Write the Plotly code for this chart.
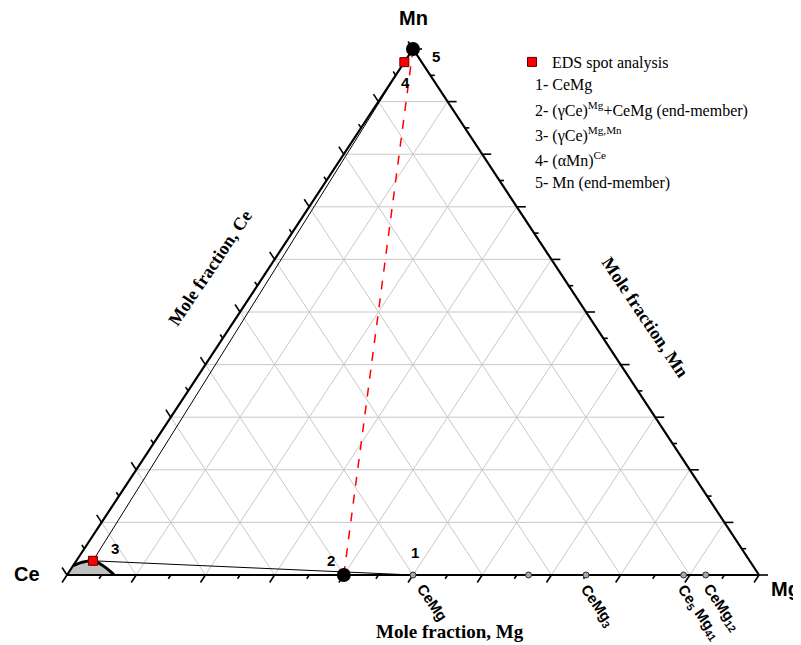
import plotly.graph_objects as go

# ---------------- data (mole fractions) ----------------
grid_values = [0.1, 0.2, 0.3, 0.4, 0.5, 0.6, 0.7, 0.8, 0.9]
tick_values = [i * 0.05 for i in range(21)]

compound_mg = [0.5, 0.667, 0.75, 0.891, 0.923]
compound_text = ["CeMg", "", "CeMg<sub>3</sub>", "Ce<sub>5</sub> Mg<sub>41</sub>", "CeMg<sub>12</sub>"]
compound_label_dx = [-2, 0, -13, -13, -10]   # label nudges in px (style)

eds_mg = [0.024, 0.0]          # spots 3, 4
eds_mn = [0.027, 0.975]
eds_ids = ["3", "4"]

end_mg = [0.40, 0.0]           # end-members 2, 5
end_mn = [0.0, 1.0]
end_ids = ["2", "5"]

cemg_mg = 0.5                  # point 1
cemg_mn = 0.0

boundary_mg = [0.0, 0.009, 0.024, 0.041, 0.063, 0.068]
boundary_mn = [0.018, 0.024, 0.027, 0.019, 0.004, 0.0]

legend_lines = [
    "1- CeMg",
    "2- (γCe)<sup>Mg</sup>+CeMg (end-member)",
    "3- (γCe)<sup>Mg,Mn</sup>",
    "4- (αMn)<sup>Ce</sup>",
    "5- Mn (end-member)",
]

# ---------------- page geometry ----------------
W, H = 793, 637      # figure size (page has 8 px body margin)
OFF = 8


def px2paper_x(p):
    return (p - OFF) / W


def px2paper_y(p):
    return 1 - (p - OFF) / H


def X(mg, mn):
    return mg + mn / 2.0


def Y(mg, mn):
    return mn


SANS = "Liberation Sans"
SERIF = "Liberation Serif"

fig = go.Figure()

# grid
gx, gy = [], []
for k in grid_values:
    gx += [X(0, k), X(1 - k, k), None]; gy += [Y(0, k), Y(1 - k, k), None]
    gx += [X(k, 0), X(k, 1 - k), None]; gy += [Y(k, 0), Y(k, 1 - k), None]
    gx += [X(1 - k, 0), X(0, 1 - k), None]; gy += [Y(1 - k, 0), Y(0, 1 - k), None]
fig.add_trace(go.Scatter(x=gx, y=gy, mode="lines", line=dict(color="#c8c8c8", width=1),
                         hoverinfo="skip", showlegend=False))

# grey phase region
px = [X(0, 0)] + [X(a, b) for a, b in zip(boundary_mg, boundary_mn)] + [X(0, 0)]
py = [Y(0, 0)] + [Y(a, b) for a, b in zip(boundary_mg, boundary_mn)] + [Y(0, 0)]
fig.add_trace(go.Scatter(x=px, y=py, mode="lines", fill="toself", fillcolor="#c0c0c0",
                         line=dict(width=0, color="#c0c0c0"), hoverinfo="skip", showlegend=False))

# ticks
tx_, ty_ = [], []
for i, v in enumerate(tick_values):
    major = (i % 2 == 0)
    t = 0.0143 if major else 0.0072
    tr = 0.013 if major else 0.0065
    tx_ += [X(v, 0), X(v, -t), None]; ty_ += [Y(v, 0), Y(v, -t), None]
    tx_ += [X(0, v), X(-t, v + t), None]; ty_ += [Y(0, v), Y(-t, v + t), None]
    tx_ += [X(1 - v, v), X(1 - v + tr, v), None]; ty_ += [Y(1 - v, v), Y(1 - v + tr, v), None]
fig.add_trace(go.Scatter(x=tx_, y=ty_, mode="lines", line=dict(color="black", width=1.6),
                         hoverinfo="skip", showlegend=False))

# triangle edges
fig.add_trace(go.Scatter(x=[X(0, 0), X(1, 0), X(0, 1), X(0, 0)],
                         y=[Y(0, 0), Y(1, 0), Y(0, 1), Y(0, 0)],
                         mode="lines", line=dict(color="black", width=2.2),
                         hoverinfo="skip", showlegend=False))

# phase boundary
fig.add_trace(go.Scatter(x=[X(a, b) for a, b in zip(boundary_mg, boundary_mn)],
                         y=[Y(a, b) for a, b in zip(boundary_mg, boundary_mn)],
                         mode="lines", line=dict(color="black", width=3, shape="spline"),
                         hoverinfo="skip", showlegend=False))

# tie lines 4-3-1
fig.add_trace(go.Scatter(x=[X(eds_mg[1], eds_mn[1]), X(eds_mg[0], eds_mn[0]), X(cemg_mg, cemg_mn)],
                         y=[Y(eds_mg[1], eds_mn[1]), Y(eds_mg[0], eds_mn[0]), Y(cemg_mg, cemg_mn)],
                         mode="lines", line=dict(color="black", width=1),
                         hoverinfo="skip", showlegend=False))

# red dashed 2-5
fig.add_trace(go.Scatter(x=[X(a, b) for a, b in zip(end_mg, end_mn)],
                         y=[Y(a, b) for a, b in zip(end_mg, end_mn)],
                         mode="lines", line=dict(color="red", width=1.5, dash="dash"),
                         hoverinfo="skip", showlegend=False))

# compounds on Ce-Mg edge
fig.add_trace(go.Scatter(x=[X(v, 0) for v in compound_mg], y=[Y(v, 0) for v in compound_mg],
                         mode="markers",
                         marker=dict(symbol="circle", size=6, color="#a8a8a8",
                                     line=dict(color="#333333", width=1)),
                         hoverinfo="skip", showlegend=False))

# end members
fig.add_trace(go.Scatter(x=[X(a, b) for a, b in zip(end_mg, end_mn)],
                         y=[Y(a, b) for a, b in zip(end_mg, end_mn)],
                         mode="markers", marker=dict(symbol="circle", size=14, color="black"),
                         hoverinfo="skip", showlegend=False))

# EDS spots
fig.add_trace(go.Scatter(x=[X(a, b) for a, b in zip(eds_mg, eds_mn)],
                         y=[Y(a, b) for a, b in zip(eds_mg, eds_mn)],
                         mode="markers", name="EDS spot analysis",
                         marker=dict(symbol="square", size=9, color="#ff0000",
                                     line=dict(color="#600000", width=1)),
                         hoverinfo="skip", showlegend=True))

ann = []
numfont = dict(family=SANS, size=15, color="black", weight="bold")
ann.append(dict(x=X(cemg_mg, cemg_mn), y=Y(cemg_mg, cemg_mn), text="1", xshift=2, yshift=23))
ann.append(dict(x=X(end_mg[0], end_mn[0]), y=Y(end_mg[0], end_mn[0]), text=end_ids[0], xshift=-13, yshift=15))
ann.append(dict(x=X(eds_mg[0], eds_mn[0]), y=Y(eds_mg[0], eds_mn[0]), text=eds_ids[0], xshift=22, yshift=12))
ann.append(dict(x=X(eds_mg[1], eds_mn[1]), y=Y(eds_mg[1], eds_mn[1]), text=eds_ids[1], xshift=1, yshift=-20))
ann.append(dict(x=X(end_mg[1], end_mn[1]), y=Y(end_mg[1], end_mn[1]), text=end_ids[1], xshift=23, yshift=-7))
for a in ann:
    a.update(xref="x", yref="y", showarrow=False, font=numfont, xanchor="center", yanchor="middle")

# vertex labels
vfont = dict(family=SANS, size=20, color="black", weight="bold")
ann.append(dict(x=X(0, 1), y=Y(0, 1), text="Mn", xshift=0, yshift=31, font=vfont,
                xref="x", yref="y", showarrow=False))
ann.append(dict(x=X(0, 0), y=Y(0, 0), text="Ce", xshift=-40, yshift=1, font=vfont,
                xref="x", yref="y", showarrow=False))
ann.append(dict(x=X(1, 0), y=Y(1, 0), text="Mg", xshift=26, yshift=-14, font=vfont,
                xref="x", yref="y", showarrow=False))

# compound labels
cfont = dict(family=SANS, size=15, color="black", weight="bold")
for v, t, dx in zip(compound_mg, compound_text, compound_label_dx):
    if t:
        ann.append(dict(x=X(v, 0), y=Y(v, 0), text=t, textangle=55, xanchor="left", yanchor="top",
                        xshift=dx, yshift=-3, font=cfont, xref="x", yref="y", showarrow=False))

# axis titles
ann.append(dict(x=px2paper_x(450), y=px2paper_y(631), xref="paper", yref="paper",
                text="Mole fraction, Mg", showarrow=False,
                font=dict(family=SERIF, size=19, color="black", weight="bold"),
                xanchor="center", yanchor="middle"))
sfont = dict(family=SERIF, size=18, color="black", weight="bold")
ann.append(dict(x=px2paper_x(210), y=px2paper_y(268), xref="paper", yref="paper",
                text="Mole fraction, Ce", showarrow=False, font=sfont,
                xanchor="center", yanchor="middle", textangle=-56))
ann.append(dict(x=px2paper_x(645), y=px2paper_y(317), xref="paper", yref="paper",
                text="Mole fraction, Mn", showarrow=False, font=sfont,
                xanchor="center", yanchor="middle", textangle=56))

# legend text lines
lfont = dict(family=SERIF, size=16, color="black")
for txt, yc in zip(legend_lines, [85, 110, 135, 159, 183]):
    ann.append(dict(x=px2paper_x(533), y=px2paper_y(yc), xref="paper", yref="paper", text=txt,
                    showarrow=False, font=lfont, xanchor="left", yanchor="middle"))

# axis ranges: Ce corner at page (67, 575), triangle 692 px wide, 526 px high
x0_fig = 67 - OFF
base_fig = 575 - OFF
fig.update_layout(
    width=W, height=H,
    margin=dict(l=0, r=0, t=0, b=0),
    paper_bgcolor="white", plot_bgcolor="white",
    xaxis=dict(range=[-x0_fig / 692, (W - x0_fig) / 692], visible=False, fixedrange=True),
    yaxis=dict(range=[(base_fig - H) / 526, base_fig / 526], visible=False, fixedrange=True),
    annotations=ann,
    showlegend=True,
    legend=dict(x=px2paper_x(512), y=px2paper_y(45), xanchor="left", yanchor="top",
                font=dict(family=SERIF, size=16, color="black"), bgcolor="rgba(0,0,0,0)",
                borderwidth=0),
)

fig.write_html("out.html")
